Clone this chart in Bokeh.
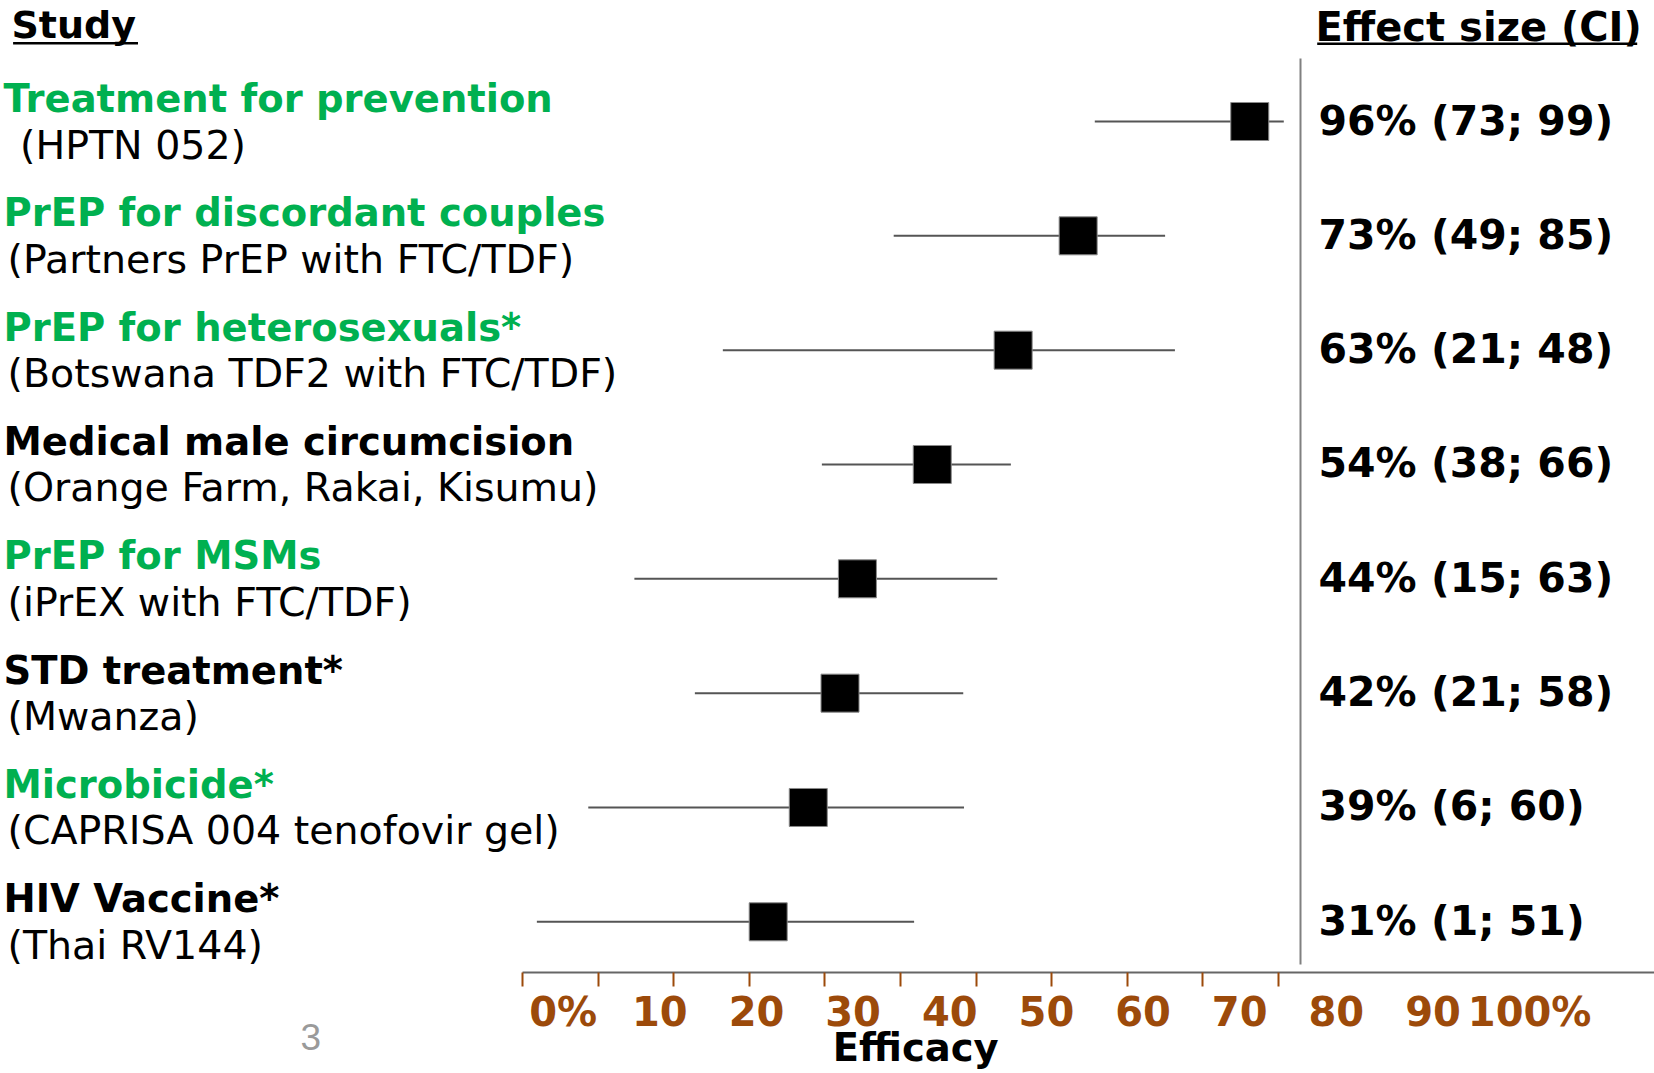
from bokeh.plotting import figure
from bokeh.models import Range1d, LinearAxis, FixedTicker, ColumnDataSource
from bokeh.core.properties import value
from bokeh.embed import file_html
from bokeh.resources import INLINE

# ---------------- data ----------------
titles = ["Treatment for prevention", "PrEP for discordant couples",
          "PrEP for heterosexuals*", "Medical male circumcision",
          "PrEP for MSMs", "STD treatment*", "Microbicide*", "HIV Vaccine*"]
subtitles = ["\u00a0(HPTN 052)", "(Partners PrEP with FTC/TDF)",
             "(Botswana TDF2 with FTC/TDF)", "(Orange Farm, Rakai, Kisumu)",
             "(iPrEX with FTC/TDF)", "(Mwanza)",
             "(CAPRISA 004 tenofovir gel)", "(Thai RV144)"]
title_green = [True, True, True, False, True, False, True, False]
effect_labels = ["96% (73; 99)", "73% (49; 85)", "63% (21; 48)", "54% (38; 66)",
                 "44% (15; 63)", "42% (21; 58)", "39% (6; 60)", "31% (1; 51)"]
estimate = [96.2, 73.5, 64.9, 54.2, 44.3, 42.0, 37.8, 32.5]
ci_low = [75.7, 49.1, 26.5, 39.6, 14.8, 22.8, 8.7, 1.9]
ci_high = [100.7, 85.0, 86.3, 64.6, 62.8, 58.3, 58.4, 51.8]
tick_values = [0, 10, 20, 30, 40, 50, 60, 70, 80, 90, 100]
tick_labels = ["0%", "10", "20", "30", "40", "50", "60", "70", "80", "90", "100%"]
axis_title = "Efficacy"
page_number = "3"

# ---------------- layout ----------------
W, H = 1654, 1073
BORDER_B = 101
FRAME_H = H - BORDER_B
X0, PXU = 522.0, 7.56        # pixel of 0 %, pixels per unit (tick axis)
L0, LPU = 562.7, 9.664       # label axis placement
Y0, ROWPX = 121.0, 114.33    # first row pixel, row spacing

GREEN = "#00B050"
BROWN = "#9C4A0A"
FONT = "DejaVu Sans"


def fx(px):
    return (px - X0) / PXU


def fy(py):
    return (py - Y0) / ROWPX


n = len(titles)
rows = list(range(n))

p = figure(width=W, height=H, output_backend="svg", toolbar_location=None,
           x_range=Range1d(fx(0), fx(W)), y_range=Range1d(fy(FRAME_H), fy(0)),
           x_axis_location=None, y_axis_location=None,
           min_border_left=0, min_border_right=0, min_border_top=0,
           min_border_bottom=BORDER_B)
p.title.visible = False
p.outline_line_color = None
p.background_fill_color = "white"
p.border_fill_color = "white"
p.grid.visible = False

src = ColumnDataSource(dict(
    row=rows, title=titles, sub=subtitles,
    tcolor=[GREEN if g else "black" for g in title_green],
    eff=effect_labels, est=estimate, lo=ci_low, hi=ci_high))

# CI lines and point estimates
p.segment(x0="lo", y0="row", x1="hi", y1="row", source=src,
          line_color="#555555", line_width=2)
p.scatter(x="est", y="row", source=src, marker="square", size=38,
          fill_color="black", line_color="#8a8a8a", line_width=1)

# study texts (y = cap centre)
p.text(x=fx(3), y="row", text="title", source=src, text_color="tcolor",
       text_font=value(FONT), text_font_style="bold",
       text_font_size=value("38.5px"), text_align="left",
       text_baseline="alphabetic", y_offset=-23)
p.text(x=fx(7), y="row", text="sub", source=src, text_color="black",
       text_font=value(FONT), text_font_size=value("39.5px"),
       text_align="left", text_baseline="alphabetic", y_offset=23)

# effect size texts
p.text(x=fx(1318), y="row", text="eff", source=src, text_color="black",
       text_font=value(FONT), text_font_style="bold",
       text_font_size=value("41px"), text_align="left",
       text_baseline="alphabetic", y_offset=-1)

# divider
p.segment(x0=[fx(1300)], y0=[fy(58)], x1=[fx(1300)], y1=[fy(964)],
          line_color="#808080", line_width=2)

# headers
p.text(x=[fx(11)], y=[fy(24.7)], text=["Study"], text_color="black",
       text_font=value(FONT), text_font_style="bold",
       text_font_size=value("38px"), text_baseline="alphabetic")
p.text(x=[fx(1315)], y=[fy(26.3)], text=["Effect size (CI)"], text_color="black",
       text_font=value(FONT), text_font_style="bold",
       text_font_size=value("40px"), text_baseline="alphabetic")
p.segment(x0=[fx(12.6), fx(1316.7)], y0=[fy(42.7), fy(43.3)],
          x1=[fx(137.5), fx(1636.7)], y1=[fy(42.7), fy(43.3)],
          line_color="black", line_width=2.5)

# tick axis
axA = LinearAxis(ticker=FixedTicker(ticks=tick_values), bounds=(0, fx(W)),
                 axis_line_color="#666666", axis_line_width=2,
                 major_tick_line_color=BROWN, major_tick_line_width=2,
                 major_tick_out=14, major_tick_in=0,
                 minor_tick_out=0, minor_tick_in=0,
                 major_label_text_font_size="1px", major_label_standoff=0,
                 major_label_text_alpha=0,
                 major_label_overrides={v: "" for v in tick_values})
p.add_layout(axA, "below")

# label axis
p.extra_x_ranges = {"lab": Range1d(-L0 / LPU, (W - L0) / LPU)}
axB = LinearAxis(x_range_name="lab", ticker=FixedTicker(ticks=tick_values),
                 major_label_overrides=dict(zip(tick_values, tick_labels)),
                 axis_line_color=None, major_tick_line_color=None,
                 minor_tick_line_color=None, major_tick_out=0, major_tick_in=0,
                 minor_tick_out=0, minor_tick_in=0, major_label_standoff=2,
                 major_label_text_font=FONT, major_label_text_font_style="bold",
                 major_label_text_font_size="40px",
                 major_label_text_color=BROWN)
p.add_layout(axB, "below")

# page number
page_tick = -28
axC = LinearAxis(ticker=FixedTicker(ticks=[page_tick]),
                 major_label_overrides={page_tick: page_number},
                 axis_line_color=None, major_tick_line_color=None,
                 minor_tick_line_color=None, major_tick_out=0, major_tick_in=0,
                 minor_tick_out=0, minor_tick_in=0, major_label_standoff=-14,
                 major_label_text_font="Liberation Sans",
                 major_label_text_font_size="37px",
                 major_label_text_color="#9a9a9a")
p.add_layout(axC, "below")

# axis title, placed under the data scale
title_tick = 52
axD = LinearAxis(ticker=FixedTicker(ticks=[title_tick]),
                 major_label_overrides={title_tick: axis_title},
                 axis_line_color=None, major_tick_line_color=None,
                 minor_tick_line_color=None, major_tick_out=0, major_tick_in=0,
                 minor_tick_out=0, minor_tick_in=0, major_label_standoff=-28,
                 major_label_text_font=FONT, major_label_text_font_style="bold",
                 major_label_text_font_size="38.5px",
                 major_label_text_color="black")
p.add_layout(axD, "below")

open("out.html", "w").write(file_html(p, INLINE))
